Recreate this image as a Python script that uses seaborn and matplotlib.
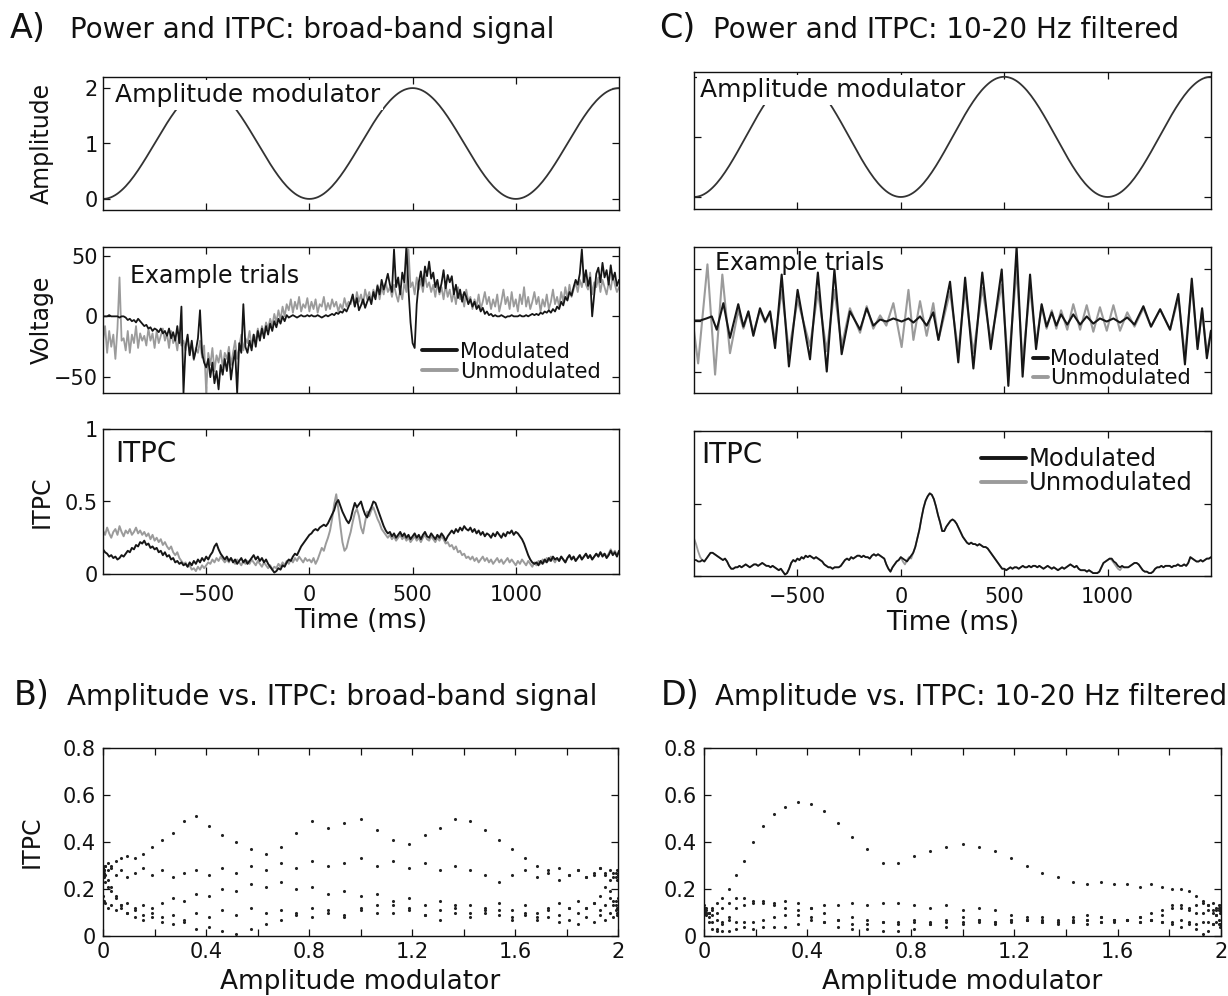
import numpy as np
import pandas as pd
import matplotlib
matplotlib.use("Agg")
import matplotlib.pyplot as plt
from matplotlib.lines import Line2D
import seaborn as sns

# ---------------- data ----------------
# time axis of the sampled series (ms), 10 ms steps
time_ms = np.arange(-1000, 1501, 10)

# one period (1000 ms, 10 ms steps) of the amplitude modulator
amp_period = [0.000, 0.002, 0.008, 0.018, 0.031, 0.049, 0.070, 0.095, 0.124, 0.156,
              0.191, 0.229, 0.271, 0.315, 0.363, 0.412, 0.464, 0.518, 0.574, 0.632,
              0.691, 0.751, 0.813, 0.875, 0.937, 1.000, 1.063, 1.125, 1.187, 1.249,
              1.309, 1.368, 1.426, 1.482, 1.536, 1.588, 1.637, 1.685, 1.729, 1.771,
              1.809, 1.844, 1.876, 1.905, 1.930, 1.951, 1.969, 1.982, 1.992, 1.998,
              2.000, 1.998, 1.992, 1.982, 1.969, 1.951, 1.930, 1.905, 1.876, 1.844,
              1.809, 1.771, 1.729, 1.685, 1.637, 1.588, 1.536, 1.482, 1.426, 1.368,
              1.309, 1.249, 1.187, 1.125, 1.063, 1.000, 0.937, 0.875, 0.813, 0.751,
              0.691, 0.632, 0.574, 0.518, 0.464, 0.412, 0.363, 0.315, 0.271, 0.229,
              0.191, 0.156, 0.124, 0.095, 0.070, 0.049, 0.031, 0.018, 0.008, 0.002]
amplitude = np.array(amp_period * 2 + amp_period[:51])

# broad-band example trials (voltage)
volt_bb_mod = [
    0, 0, 0, 1, 0, 0, 0, 0, -1, 0,
    0, -1, -3, -2, -4, -3, -5, -2, -4, -6,
    -8, -7, -10, -9, -12, -10, -11, -13, -10, -14,
    -12, -16, -10, -18, -13, -20, -8, -22, 8, -63,
    -25, -15, -32, -20, -35, -28, -18, 5, -30, -38,
    -42, -35, -50, -38, -55, -45, -60, -40, -48, -35,
    -45, -30, -52, -38, -28, -63, -22, -30, 10, -25,
    -30, -20, -28, -15, -25, -12, -20, -10, -18, -8,
    -15, -6, -12, -4, -9, -2, -6, 0, -4, 1,
    -1, 0, 1, 0, -1, 0, 1, 0, 0, 1,
    0, 1, 0, 0, 1, 0, -1, 0, 1, 0,
    1, 2, 1, 3, 2, 4, 3, 6, 4, 8,
    12, 18, 8, 15, 5, 9, 14, 7, 12, 16,
    10, 20, 14, 25, 18, 30, 22, 28, 35, 26,
    20, 55, 24, 32, 18, 36, 28, 58, 22, -5,
    -22, -26, 10, 28, 37, 25, 41, 33, 45, 31,
    36, 24, 30, 20, 27, 38, 23, 34, 28, 33,
    18, 26, 15, 22, 12, 20, 16, 10, 14, 8,
    12, 6, 9, 4, 7, 2, 4, 1, 2, 0,
    1, 0, 0, 1, 0, -1, 0, 0, 1, 0,
    0, 0, 1, 0, 0, 1, 0, 1, 2, 1,
    2, 1, 3, 2, 4, 3, 5, 3, 6, 4,
    8, 6, 12, 9, 16, 13, 20, 17, 24, 30,
    26, 35, 55, 28, 38, 25, 32, 0, 18, 35,
    40, 28, 44, 32, 38, 26, 42, 30, 36, 25,
    30]
volt_bb_unmod = [
    -20, -8, -30, -12, -25, -15, -35, -10, 32, -20,
    -18, -28, -12, -30, -15, -22, -8, -26, -14, -20,
    -16, -24, -10, -20, -14, -26, -12, -22, -16, -10,
    -20, -14, -26, -12, -22, -18, -28, -14, -24, -20,
    -28, -18, -32, -22, -36, -26, -30, -20, -34, -24,
    -63, -30, -40, -26, -45, -32, -38, -28, -42, -30,
    -35, -25, -40, -30, -20, -35, -25, -15, -28, -18,
    -22, -12, -25, -15, -20, -10, -18, -8, -14, -5,
    -10, -2, -8, 2, -5, 5, -3, 8, 0, 10,
    5, 14, 3, 12, 6, 16, 4, 10, 7, 15,
    4, 12, 6, 14, 3, 10, 8, 16, 5, 11,
    6, 14, 8, 12, 4, 10, 6, 15, 8, 12,
    10, 16, 8, 20, 12, 18, 10, 22, 14, 20,
    12, 22, 16, 26, 14, 24, 18, 28, 20, 24,
    16, 26, 18, 12, 22, 14, 28, 20, 55, 24,
    28, 18, 32, 22, 30, 20, 34, 24, 28, 20,
    26, 16, 28, 18, 24, 14, 26, 16, 22, 12,
    20, 10, 24, 14, 18, 8, 22, 12, 16, 6,
    14, 8, 18, 6, 12, 20, 10, 16, 6, 14,
    8, 18, 4, 12, 22, 10, 16, 6, 20, 8,
    14, 4, 18, 10, 24, 8, 16, 6, 12, 20,
    10, 16, 4, 14, 8, 18, 6, 12, 22, 10,
    16, 8, 20, 12, 24, 14, 26, 16, 22, 28,
    20, 30, 24, 34, 26, 22, 36, 18, 28, 24,
    32, 20, 30, 24, 18, 28, 22, 34, 26, 20,
    24]

# broad-band ITPC
itpc_bb_mod = [
    0.17, 0.15, 0.14, 0.12, 0.13, 0.11, 0.12, 0.10, 0.11, 0.13,
    0.12, 0.14, 0.16, 0.15, 0.18, 0.17, 0.20, 0.19, 0.22, 0.21,
    0.23, 0.20, 0.21, 0.18, 0.19, 0.17, 0.18, 0.15, 0.16, 0.13,
    0.15, 0.12, 0.13, 0.10, 0.11, 0.08, 0.09, 0.07, 0.08, 0.06,
    0.07, 0.05, 0.08, 0.06, 0.09, 0.07, 0.10, 0.08, 0.11, 0.09,
    0.12, 0.10, 0.13, 0.15, 0.19, 0.21, 0.17, 0.14, 0.12, 0.10,
    0.12, 0.09, 0.11, 0.08, 0.10, 0.07, 0.09, 0.11, 0.08, 0.10,
    0.07, 0.09, 0.11, 0.13, 0.10, 0.12, 0.09, 0.11, 0.08, 0.10,
    0.07, 0.05, 0.03, 0.01, 0.02, 0.04, 0.03, 0.06, 0.05, 0.08,
    0.10, 0.09, 0.12, 0.14, 0.13, 0.16, 0.19, 0.21, 0.23, 0.25,
    0.27, 0.28, 0.30, 0.31, 0.30, 0.32, 0.33, 0.34, 0.33, 0.35,
    0.38, 0.41, 0.44, 0.49, 0.51, 0.47, 0.43, 0.40, 0.37, 0.35,
    0.38, 0.44, 0.49, 0.46, 0.48, 0.50, 0.45, 0.41, 0.39, 0.43,
    0.46, 0.50, 0.49, 0.45, 0.41, 0.37, 0.33, 0.30, 0.28, 0.29,
    0.26, 0.28, 0.25, 0.27, 0.29, 0.26, 0.28, 0.25, 0.27, 0.24,
    0.26, 0.28, 0.25, 0.27, 0.24, 0.27, 0.29, 0.26, 0.25, 0.28,
    0.26, 0.24, 0.27, 0.25, 0.28, 0.26, 0.23, 0.26, 0.28, 0.30,
    0.28, 0.31, 0.29, 0.32, 0.30, 0.33, 0.31, 0.30, 0.32, 0.29,
    0.31, 0.28, 0.30, 0.27, 0.29, 0.26, 0.28, 0.27, 0.25, 0.28,
    0.26, 0.29, 0.27, 0.25, 0.28, 0.26, 0.29, 0.28, 0.30, 0.27,
    0.29, 0.28, 0.26, 0.24, 0.21, 0.17, 0.13, 0.10, 0.08, 0.07,
    0.08, 0.06, 0.09, 0.07, 0.10, 0.08, 0.11, 0.09, 0.12, 0.10,
    0.11, 0.09, 0.12, 0.10, 0.08, 0.11, 0.13, 0.10, 0.12, 0.09,
    0.11, 0.13, 0.10, 0.12, 0.14, 0.11, 0.13, 0.10, 0.12, 0.14,
    0.12, 0.15, 0.12, 0.14, 0.11, 0.13, 0.16, 0.13, 0.15, 0.12,
    0.16]
itpc_bb_unmod = [
    0.30, 0.27, 0.32, 0.28, 0.25, 0.29, 0.31, 0.27, 0.33, 0.29,
    0.26, 0.30, 0.28, 0.31, 0.27, 0.29, 0.32, 0.28, 0.30, 0.27,
    0.29, 0.26, 0.28, 0.24, 0.27, 0.23, 0.25, 0.22, 0.24, 0.20,
    0.22, 0.19, 0.17, 0.19, 0.15, 0.13, 0.15, 0.11, 0.09, 0.07,
    0.08, 0.05, 0.06, 0.03, 0.04, 0.02, 0.05, 0.03, 0.06, 0.04,
    0.06, 0.08, 0.07, 0.10, 0.08, 0.11, 0.09, 0.12, 0.10, 0.08,
    0.10, 0.08, 0.11, 0.09, 0.07, 0.10, 0.08, 0.06, 0.09, 0.07,
    0.09, 0.07, 0.10, 0.08, 0.06, 0.09, 0.07, 0.05, 0.08, 0.06,
    0.04, 0.06, 0.03, 0.05, 0.04, 0.07, 0.05, 0.08, 0.06, 0.09,
    0.07, 0.10, 0.08, 0.11, 0.09, 0.12, 0.10, 0.08, 0.11, 0.09,
    0.10, 0.08, 0.11, 0.07, 0.10, 0.14, 0.18, 0.16, 0.21, 0.25,
    0.30, 0.38, 0.48, 0.55, 0.45, 0.33, 0.22, 0.16, 0.18, 0.24,
    0.29, 0.36, 0.42, 0.45, 0.40, 0.32, 0.28, 0.36, 0.43, 0.40,
    0.44, 0.46, 0.42, 0.38, 0.35, 0.31, 0.29, 0.27, 0.25, 0.27,
    0.24, 0.26, 0.23, 0.25, 0.27, 0.24, 0.26, 0.23, 0.25, 0.22,
    0.24, 0.26, 0.23, 0.25, 0.22, 0.25, 0.27, 0.24, 0.23, 0.26,
    0.24, 0.22, 0.25, 0.23, 0.26, 0.24, 0.21, 0.22, 0.19, 0.20,
    0.17, 0.19, 0.15, 0.16, 0.13, 0.14, 0.11, 0.12, 0.10, 0.12,
    0.09, 0.11, 0.08, 0.10, 0.12, 0.09, 0.11, 0.08, 0.10, 0.07,
    0.09, 0.11, 0.08, 0.10, 0.07, 0.09, 0.11, 0.08, 0.10, 0.08,
    0.06, 0.09, 0.07, 0.10, 0.08, 0.06, 0.09, 0.07, 0.05, 0.08,
    0.06, 0.09, 0.07, 0.10, 0.08, 0.11, 0.09, 0.12, 0.10, 0.08,
    0.11, 0.09, 0.12, 0.10, 0.08, 0.11, 0.13, 0.10, 0.12, 0.09,
    0.11, 0.13, 0.10, 0.12, 0.14, 0.11, 0.13, 0.10, 0.12, 0.14,
    0.12, 0.15, 0.13, 0.14, 0.12, 0.14, 0.17, 0.14, 0.16, 0.13,
    0.15]

# 10-20 Hz filtered example trials: turning points (time ms, voltage)
nb_mod_t = [-1000, -970, -940, -914, -890, -858, -826, -786, -761, -737, -713, -681,
            -656, -632, -608, -576, -541, -499, -439, -401, -358, -321, -286, -246,
            -197, -165, -133, -100, -70, -36, 4, 37, 61, 93, 125, 157, 182, 238, 278,
            311, 351, 394, 435, 488, 520, 560, 589, 625, 654, 681, 705, 730, 752, 775,
            805, 834, 867, 899, 931, 963, 996, 1028, 1060, 1095, 1130, 1173, 1210,
            1254, 1302, 1342, 1374, 1407, 1435, 1457, 1480, 1500]
nb_mod_v = [0, 0, 2, 4, -9, 17, -17, 16, -6, 9, -15, 12,
            -1, 9, -27, 45, -45, 30, -38, 47, -50, 50, -33, 9,
            -9, 12, -5, 1, -1, 2, -1, 2, -2, 4, -5, 8, -19, 38, -41,
            42, -47, 47, -28, 50, -64, 72, -55, 45, -28, 16, -6, 8, -5, 6,
            -4, 6, -4, 4, -3, 2, -1, 2, -2, 3, -4, 14, -6,
            11, -9, 26, -43, 41, -28, 12, -37, -10]
nb_unmod_t = [-1000, -980, -935, -898, -863, -826, -786, -761, -737, -713, -681,
              -656, -632, -608, -576, -541, -499, -439, -401, -358, -321, -286, -246,
              -197, -165, -133, -100, -70, -36, 4, 37, 61, 93, 125, 157, 182, 238, 278,
              311, 351, 394, 435, 488, 520, 560, 589, 625, 654, 681, 705, 730, 752, 775,
              805, 834, 867, 899, 931, 963, 996, 1028, 1060, 1095, 1130, 1173, 1210,
              1254, 1302, 1342, 1374, 1407, 1435, 1457, 1480, 1500]
nb_unmod_v = [-10, -42, 55, -53, 45, -32, 10, -8, 8, -12, 10,
              -2, 8, -20, 30, -30, 20, -25, 28, -30, 30, -25, 12,
              -12, 14, -8, 5, -5, 17, -26, 30, -19, 19, -15, 17, -19, 28, -30,
              30, -32, 32, -20, 35, -45, 50, -40, 32, -22, 14, -8, 10, -8, 10,
              -9, 16, -9, 15, -11, 13, -10, 15, -10, 8, -6, 12, -6,
              11, -9, 22, -35, 35, -25, 10, -32, -10]

# 10-20 Hz filtered ITPC
itpc_nb_mod = [
    0.11, 0.11, 0.10, 0.10, 0.11, 0.10, 0.12, 0.14, 0.16, 0.16,
    0.15, 0.14, 0.13, 0.12, 0.11, 0.12, 0.10, 0.07, 0.05, 0.05,
    0.06, 0.06, 0.07, 0.06, 0.07, 0.08, 0.07, 0.06, 0.07, 0.08,
    0.08, 0.07, 0.08, 0.09, 0.08, 0.07, 0.07, 0.06, 0.07, 0.06,
    0.05, 0.04, 0.05, 0.03, 0.01, 0.02, 0.05, 0.09, 0.11, 0.10,
    0.12, 0.11, 0.13, 0.12, 0.14, 0.13, 0.14, 0.13, 0.12, 0.13,
    0.12, 0.11, 0.10, 0.08, 0.07, 0.06, 0.06, 0.05, 0.06, 0.06,
    0.06, 0.07, 0.09, 0.11, 0.12, 0.11, 0.13, 0.12, 0.13, 0.14,
    0.14, 0.13, 0.14, 0.13, 0.13, 0.12, 0.14, 0.15, 0.14, 0.15,
    0.14, 0.13, 0.12, 0.08, 0.05, 0.03, 0.06, 0.08, 0.10, 0.11,
    0.13, 0.12, 0.11, 0.10, 0.12, 0.14, 0.16, 0.20, 0.26, 0.32,
    0.40, 0.47, 0.52, 0.55, 0.57, 0.56, 0.53, 0.48, 0.42, 0.37,
    0.31, 0.31, 0.34, 0.36, 0.38, 0.39, 0.38, 0.36, 0.33, 0.30,
    0.27, 0.25, 0.23, 0.22, 0.23, 0.22, 0.22, 0.21, 0.22, 0.21,
    0.20, 0.20, 0.19, 0.17, 0.15, 0.13, 0.11, 0.09, 0.07, 0.05,
    0.05, 0.04, 0.05, 0.06, 0.05, 0.06, 0.06, 0.05, 0.06, 0.07,
    0.06, 0.06, 0.07, 0.06, 0.07, 0.07, 0.06, 0.07, 0.06, 0.05,
    0.06, 0.07, 0.06, 0.05, 0.06, 0.05, 0.04, 0.05, 0.06, 0.05,
    0.06, 0.07, 0.08, 0.07, 0.06, 0.07, 0.05, 0.04, 0.04, 0.04,
    0.03, 0.04, 0.03, 0.02, 0.02, 0.02, 0.03, 0.06, 0.09, 0.10,
    0.11, 0.12, 0.12, 0.10, 0.09, 0.07, 0.06, 0.07, 0.06, 0.06,
    0.06, 0.07, 0.08, 0.09, 0.09, 0.08, 0.06, 0.04, 0.03, 0.03,
    0.02, 0.02, 0.03, 0.05, 0.06, 0.06, 0.07, 0.06, 0.07, 0.07,
    0.07, 0.06, 0.07, 0.07, 0.08, 0.07, 0.07, 0.08, 0.07, 0.09,
    0.13, 0.12, 0.11, 0.10, 0.10, 0.11, 0.10, 0.11, 0.12, 0.12,
    0.13]
itpc_nb_unmod = [
    0.26, 0.22, 0.17, 0.13, 0.11, 0.10, 0.12, 0.14, 0.16, 0.16,
    0.15, 0.14, 0.13, 0.12, 0.11, 0.12, 0.10, 0.07, 0.05, 0.05,
    0.06, 0.06, 0.07, 0.06, 0.07, 0.08, 0.07, 0.06, 0.07, 0.08,
    0.08, 0.07, 0.08, 0.09, 0.08, 0.07, 0.07, 0.06, 0.07, 0.06,
    0.05, 0.04, 0.05, 0.03, 0.01, 0.02, 0.05, 0.09, 0.11, 0.10,
    0.12, 0.11, 0.13, 0.12, 0.14, 0.13, 0.14, 0.13, 0.12, 0.13,
    0.12, 0.11, 0.10, 0.08, 0.07, 0.06, 0.06, 0.05, 0.06, 0.06,
    0.06, 0.07, 0.09, 0.11, 0.12, 0.11, 0.13, 0.12, 0.13, 0.14,
    0.14, 0.13, 0.14, 0.13, 0.13, 0.12, 0.14, 0.15, 0.14, 0.15,
    0.14, 0.13, 0.12, 0.08, 0.05, 0.03, 0.06, 0.08, 0.10, 0.11,
    0.13, 0.10, 0.08, 0.11, 0.13, 0.12, 0.16, 0.20, 0.26, 0.32,
    0.40, 0.47, 0.52, 0.55, 0.57, 0.56, 0.53, 0.48, 0.42, 0.37,
    0.31, 0.31, 0.34, 0.36, 0.38, 0.39, 0.38, 0.36, 0.33, 0.30,
    0.27, 0.25, 0.23, 0.22, 0.23, 0.22, 0.22, 0.21, 0.22, 0.21,
    0.20, 0.20, 0.19, 0.17, 0.15, 0.13, 0.11, 0.09, 0.07, 0.05,
    0.05, 0.04, 0.05, 0.06, 0.05, 0.06, 0.06, 0.05, 0.06, 0.07,
    0.06, 0.06, 0.07, 0.06, 0.07, 0.07, 0.06, 0.07, 0.06, 0.05,
    0.06, 0.07, 0.06, 0.05, 0.06, 0.05, 0.04, 0.05, 0.06, 0.05,
    0.06, 0.07, 0.08, 0.07, 0.06, 0.07, 0.05, 0.04, 0.04, 0.04,
    0.03, 0.04, 0.03, 0.02, 0.02, 0.02, 0.03, 0.06, 0.09, 0.10,
    0.11, 0.12, 0.11, 0.09, 0.07, 0.05, 0.04, 0.06, 0.06, 0.06,
    0.06, 0.07, 0.08, 0.09, 0.09, 0.08, 0.06, 0.04, 0.03, 0.03,
    0.02, 0.02, 0.03, 0.05, 0.06, 0.06, 0.07, 0.06, 0.07, 0.07,
    0.07, 0.06, 0.07, 0.07, 0.08, 0.07, 0.07, 0.08, 0.07, 0.09,
    0.13, 0.12, 0.11, 0.10, 0.10, 0.11, 0.10, 0.11, 0.12, 0.12,
    0.13]

time_ticks = [-500, 0, 500, 1000]
time_ticklabels = ["\u2212500", "0", "500", "1000"]
amp_ticks = [0, 0.2, 0.4, 0.6, 0.8, 1.0, 1.2, 1.4, 1.6, 1.8, 2.0]
amp_ticklabels = ["0", "", "0.4", "", "0.8", "", "1.2", "", "1.6", "", "2"]
itpc_ticks = [0, 0.2, 0.4, 0.6, 0.8]
itpc_ticklabels = ["0", "0.2", "0.4", "0.6", "0.8"]
legend_labels = ["Modulated", "Unmodulated"]

# ---------------- style ----------------
sns.set_theme(style="ticks")
plt.rcParams.update({
    "font.family": ["DejaVu Sans"],
    "xtick.direction": "in", "ytick.direction": "in",
    "xtick.top": True, "ytick.right": True,
    "axes.linewidth": 1.0,
    "xtick.major.size": 5, "ytick.major.size": 5,
    "xtick.major.width": 0.9, "ytick.major.width": 0.9,
    "axes.edgecolor": "#111111", "xtick.color": "#111111", "ytick.color": "#111111",
    "text.color": "#111111", "axes.labelcolor": "#111111",
    "axes.unicode_minus": True,
    "lines.solid_joinstyle": "round",
})

BLACK = "#161616"
GRAY = "#9b9b9b"
TICK_FS = 15

W, H = 1228, 996
fig = plt.figure(figsize=(W / 100, H / 100), dpi=100)


def add_axes(x0, x1, y0, y1):
    return fig.add_axes([x0 / W, 1 - y1 / H, (x1 - x0) / W, (y1 - y0) / H])


def time_axes(ax, ylim, yticks, ylabels, xlabels):
    ax.set_xlim(-1000, 1500)
    ax.set_ylim(*ylim)
    ax.set_xticks(time_ticks)
    ax.set_xticklabels(time_ticklabels if xlabels else [])
    ax.set_yticks(yticks)
    ax.set_yticklabels(ylabels if ylabels is not None else [])
    ax.tick_params(axis="x", labelsize=TICK_FS, pad=8)
    ax.tick_params(axis="y", labelsize=TICK_FS, pad=4)
    ax.set_xlabel("")
    ax.set_ylabel("")


def legend(ax, x, y, fs, hl, spacing, lw=2.8):
    handles = [Line2D([], [], color=BLACK, lw=lw), Line2D([], [], color=GRAY, lw=lw)]
    ax.legend(handles, legend_labels, loc="center left", bbox_to_anchor=(x, y),
              frameon=False, fontsize=fs, handlelength=hl, handletextpad=0.12,
              labelspacing=spacing, borderpad=0, borderaxespad=0)


# ---------------- Panel A ----------------
axA1 = add_axes(103, 619, 77, 210)
sns.lineplot(x=time_ms, y=amplitude, ax=axA1, color="#333333", lw=1.3,
             estimator=None, legend=False)
time_axes(axA1, (-0.2, 2.2), [0, 1, 2], ["0", "1", "2"], False)
axA1.text(0.023, 0.814, "Amplitude modulator", transform=axA1.transAxes, fontsize=18,
          va="baseline", ha="left", zorder=5,
          bbox=dict(boxstyle="square,pad=0.12", fc="white", ec="none"))
axA1.set_ylabel("Amplitude", fontsize=17)
axA1.yaxis.set_label_coords(-0.095, 0.5)

axA2 = add_axes(103, 619, 247, 393)
sns.lineplot(x=time_ms, y=volt_bb_unmod, ax=axA2, color=GRAY, lw=1.3,
             estimator=None, legend=False)
sns.lineplot(x=time_ms, y=volt_bb_mod, ax=axA2, color=BLACK, lw=1.3,
             estimator=None, legend=False)
time_axes(axA2, (-63, 57), [-50, 0, 50], ["\u221250", "0", "50"], False)
axA2.text(0.052, 0.753, "Example trials", transform=axA2.transAxes, fontsize=17,
          va="baseline", ha="left")
legend(axA2, 0.618, 0.215, 15, 1.7, 0.0)
axA2.set_ylabel("Voltage", fontsize=17)
axA2.yaxis.set_label_coords(-0.095, 0.5)

axA3 = add_axes(103, 619, 429, 574)
sns.lineplot(x=time_ms, y=itpc_bb_unmod, ax=axA3, color=GRAY, lw=1.4,
             estimator=None, legend=False)
sns.lineplot(x=time_ms, y=itpc_bb_mod, ax=axA3, color=BLACK, lw=1.4,
             estimator=None, legend=False)
time_axes(axA3, (0, 1), [0, 0.5, 1], ["0", "0.5", "1"], True)
axA3.text(0.023, 0.772, "ITPC", transform=axA3.transAxes, fontsize=20,
          va="baseline", ha="left")
axA3.set_ylabel("ITPC", fontsize=17)
axA3.yaxis.set_label_coords(-0.095, 0.5)
axA3.set_xlabel("Time (ms)", fontsize=19, labelpad=2)

# ---------------- Panel C ----------------
axC1 = add_axes(694, 1211, 72, 209)
sns.lineplot(x=time_ms, y=amplitude, ax=axC1, color="#333333", lw=1.3,
             estimator=None, legend=False)
time_axes(axC1, (-0.2, 2.08), [0, 1, 2], None, False)
axC1.text(0.011, 0.82, "Amplitude modulator", transform=axC1.transAxes, fontsize=18,
          va="baseline", ha="left", zorder=5,
          bbox=dict(boxstyle="square,pad=0.12", fc="white", ec="none"))

axC2 = add_axes(694, 1211, 247, 393)
sns.lineplot(x=nb_unmod_t, y=nb_unmod_v, ax=axC2, color=GRAY, lw=1.5,
             estimator=None, legend=False)
sns.lineplot(x=nb_mod_t, y=nb_mod_v, ax=axC2, color=BLACK, lw=1.5,
             estimator=None, legend=False)
time_axes(axC2, (-71, 72), [-50, 0, 50], None, False)
axC2.text(0.041, 0.842, "Example trials", transform=axC2.transAxes, fontsize=17,
          va="baseline", ha="left")
legend(axC2, 0.656, 0.165, 15, 0.7, -0.05)

axC3 = add_axes(694, 1211, 431, 576)
sns.lineplot(x=time_ms, y=itpc_nb_unmod, ax=axC3, color=GRAY, lw=1.3,
             estimator=None, legend=False)
sns.lineplot(x=time_ms, y=itpc_nb_mod, ax=axC3, color=BLACK, lw=1.3,
             estimator=None, legend=False)
time_axes(axC3, (0, 1), [0, 0.5, 1], None, True)
axC3.text(0.0135, 0.78, "ITPC", transform=axC3.transAxes, fontsize=20,
          va="baseline", ha="left")
legend(axC3, 0.555, 0.724, 17.5, 1.85, 0.0)
axC3.set_xlabel("Time (ms)", fontsize=19, labelpad=2)

# ---------------- Panels B and D ----------------
def scatter_axes(ax):
    ax.set_xlim(0, 2)
    ax.set_ylim(0, 0.8)
    ax.set_xticks(amp_ticks)
    ax.set_xticklabels(amp_ticklabels)
    ax.set_yticks(itpc_ticks)
    ax.set_yticklabels(itpc_ticklabels)
    ax.tick_params(axis="x", labelsize=TICK_FS, pad=4)
    ax.tick_params(axis="y", labelsize=TICK_FS, pad=5)
    ax.set_xlabel("Amplitude modulator", fontsize=19, labelpad=5)
    ax.set_ylabel("")


axB = add_axes(103, 618, 748, 936)
sns.scatterplot(x=amplitude, y=itpc_bb_mod, ax=axB, s=5, color="#222222",
                linewidth=0, legend=False)
scatter_axes(axB)
axB.set_ylabel("ITPC", fontsize=17)
axB.yaxis.set_label_coords(-0.115, 0.5)

axD = add_axes(704, 1221, 748, 936)
sns.scatterplot(x=amplitude, y=itpc_nb_mod, ax=axD, s=5, color="#222222",
                linewidth=0, legend=False)
scatter_axes(axD)

# ---------------- panel titles ----------------
def title(letter, text, xl, xt, ybase):
    fig.text(xl / W, 1 - ybase / H, letter, fontsize=24, va="baseline", ha="left")
    fig.text(xt / W, 1 - ybase / H, text, fontsize=20, va="baseline", ha="left")


title("A)", "Power and ITPC: broad-band signal", 10, 70, 38)
title("C)", "Power and ITPC: 10-20 Hz filtered", 659, 713, 38)
title("B)", "Amplitude vs. ITPC: broad-band signal", 14, 67, 705)
title("D)", "Amplitude vs. ITPC: 10-20 Hz filtered", 661, 715, 705)

fig.savefig("out.png", dpi=100, facecolor="white")
